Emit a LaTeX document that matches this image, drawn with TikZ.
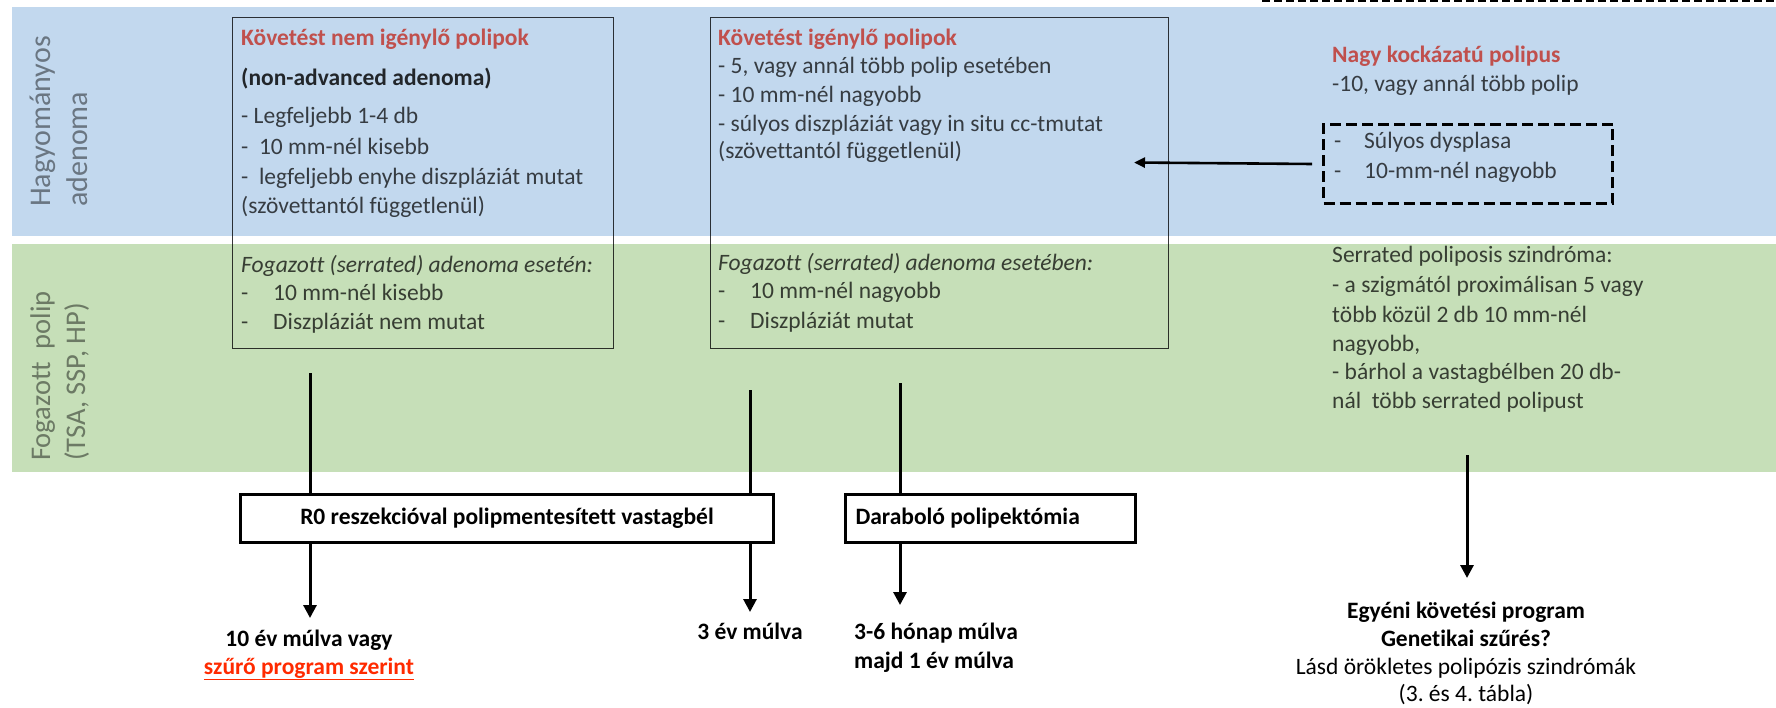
\documentclass[tikz,border=0pt]{standalone}
\usepackage{fontspec}
\setmainfont{Carlito}[Ligatures={NoCommon}]
\usetikzlibrary{arrows.meta}
\definecolor{bandblue}{HTML}{C2D8EE}
\definecolor{bandgreen}{HTML}{C6DFB8}
\definecolor{titlered}{HTML}{C0504D}
\definecolor{linkred}{HTML}{FF2A00}
\newcommand{\fsz}{\fontsize{23.5}{29}\selectfont}
\newcommand{\lblsz}{\fontsize{30}{37}\selectfont}
\newcommand{\lblszb}{\fontsize{28.5}{35}\selectfont}
\newcommand{\tabdash}[1]{\makebox[#1][l]{-}}
\frenchspacing
\begin{document}
\frenchspacing
\begin{tikzpicture}[x=1pt,y=-1pt,
  txt/.style={anchor=base west,inner sep=0pt,font=\fsz,text=black,text opacity=0.72},
  ttl/.style={anchor=base west,inner sep=0pt,font=\fsz\bfseries,text=titlered},
  itx/.style={txt,font=\fsz\itshape},
  bt/.style={anchor=base,inner sep=0pt,font=\fsz\bfseries,text=black},
  rt/.style={anchor=base,inner sep=0pt,font=\fsz,text=black},
  lbl/.style={rotate=90,anchor=base west,inner sep=0pt,font=\lblsz,text=black,text opacity=0.45},
  bigbox/.style={draw=black,draw opacity=0.78,line width=1.3pt,anchor=north west,inner sep=0pt},
  dashbox/.style={draw=black,line width=3pt,dash pattern=on 11pt off 5pt,anchor=north west,inner sep=0pt},
  resbox/.style={draw=black,line width=3pt,fill=white,anchor=north west,font=\fsz\bfseries},
  conn/.style={line width=3pt},
  arr/.style={conn,-{Triangle[width=13pt,length=13pt]}},
  harr/.style={line width=2.6pt,-{Triangle[width=10pt,length=11pt]}}
]
\useasboundingbox (0,0) rectangle (1776,708);
% bands
\fill[bandblue] (12,7) rectangle (1776,236);
\fill[bandgreen] (12,244) rectangle (1776,472);
\draw[line width=2.5pt,dash pattern=on 8pt off 4pt] (1262,1) -- (1776,1);

% row labels
\node[lbl] (lh1) at (50,207) {Hagyományos};
\node[lbl] (lh2) at (87,207) {adenoma};
\node[lbl,font=\lblszb] (lf1) at (50,461) {Fogazott\ \ polip};
\node[lbl,font=\lblszb] (lf2) at (85,461) {(TSA, SSP, HP)};

% big boxes
\node[bigbox,minimum width=381pt,minimum height=331pt] (lbox) at (232,17) {};
\node[bigbox,minimum width=458pt,minimum height=331pt] (mbox) at (710,17) {};

% left box text
\node[ttl] (l1) at (241,46) {Követést nem igénylő polipok};
\node[txt,font=\fsz\bfseries,text opacity=0.82] (l2) at (241,86) {(non-advanced adenoma)};
\node[txt] (l3) at (241,124) {- Legfeljebb 1-4 db};
\node[txt] (l4) at (241,155) {-\ \ 10 mm-nél kisebb};
\node[txt] (l5) at (241,185) {-\ \ legfeljebb enyhe diszpláziát mutat};
\node[txt] (l6) at (241,214) {(szövettantól függetlenül)};
\node[itx] (l7) at (241,273) {Fogazott (serrated) adenoma esetén:};
\node[txt] (l8) at (241,301) {\tabdash{32pt}10 mm-nél kisebb};
\node[txt] (l9) at (241,329) {\tabdash{32pt}Diszpláziát nem mutat};

% middle box text
\node[ttl] (m1) at (718,46) {Követést igénylő polipok};
\node[txt] (m2) at (718,74) {- 5, vagy annál több polip esetében};
\node[txt] (m3) at (718,103) {- 10 mm-nél nagyobb};
\node[txt] (m4) at (718,132) {- súlyos diszpláziát vagy in situ cc-tmutat};
\node[txt] (m5) at (718,159) {(szövettantól függetlenül)};
\node[itx] (m6) at (718,271) {Fogazott (serrated) adenoma esetében:};
\node[txt] (m7) at (718,299) {\tabdash{32pt}10 mm-nél nagyobb};
\node[txt] (m8) at (718,328) {\tabdash{32pt}Diszpláziát mutat};

% right column
\node[ttl] (r1) at (1332,63) {Nagy kockázatú polipus};
\node[txt] (r2) at (1332,92) {-10, vagy annál több polip};
\node[dashbox,minimum width=289pt,minimum height=79pt] (hrisk) at (1322,123) {};
\node[txt] (r3) at (1334,149) {\tabdash{30pt}Súlyos dysplasa};
\node[txt] (r4) at (1334,179) {\tabdash{30pt}10-mm-nél nagyobb};
\node[txt] (s1) at (1332,263) {Serrated poliposis szindróma:};
\node[txt] (s2) at (1332,293) {- a szigmától proximálisan 5 vagy};
\node[txt] (s3) at (1332,323) {több közül 2 db 10 mm-nél};
\node[txt] (s4) at (1332,351) {nagyobb,};
\node[txt] (s5) at (1332,379) {- bárhol a vastagbélben 20 db-};
\node[txt] (s6) at (1332,408) {nál\ \ több serrated polipust};

% horizontal arrow
\coordinate (tip5) at (1134,162.5);
\draw[harr] ([xshift=-10pt]hrisk.west) -- (tip5);

% result boxes
\node[resbox,minimum width=533pt,minimum height=48pt,inner sep=0pt] (r0) at (239,493) {R0 reszekcióval polipmentesített vastagbél};
\node[resbox,minimum width=290pt,minimum height=48pt,inner sep=0pt] (dar) at (844,493) {\makebox[270pt][l]{Daraboló polipektómia}};

% connectors
\coordinate (c1) at (310,373);
\coordinate (tip1) at (310,618);
\draw[conn] (c1) -- (c1 |- r0.north);
\draw[arr] (c1 |- r0.south) -- (tip1);
\coordinate (c2) at (750,390);
\coordinate (tip2) at (750,612);
\draw[conn] (c2) -- (c2 |- r0.north);
\draw[arr] (c2 |- r0.south) -- (tip2);
\coordinate (c3) at (900,383);
\coordinate (tip3) at (900,605);
\draw[conn] (c3) -- (c3 |- dar.north);
\draw[arr] (c3 |- dar.south) -- (tip3);
\coordinate (c4) at (1467,455);
\coordinate (tip4) at (1467,578);
\draw[arr] (c4) -- (tip4);

% outcomes
\node[bt] (o1) at (309,646) {10 év múlva vagy};
\node[bt,text=linkred] (o2) at (309,674) {\underline{szűrő program szerint}};
\node[bt] (o3) at (750,639) {3 év múlva};
\node[bt,anchor=base west] (o4) at (854,639) {3-6 hónap múlva};
\node[bt,anchor=base west] (o5) at (854,668) {majd 1 év múlva};
\node[bt] (o6) at (1466,618) {Egyéni követési program};
\node[bt] (o7) at (1466,646) {Genetikai szűrés?};
\node[rt] (o8) at (1466,674) {Lásd örökletes polipózis szindrómák};
\node[rt] (o9) at (1466,701) {(3. és 4. tábla)};
\end{tikzpicture}
\end{document}
